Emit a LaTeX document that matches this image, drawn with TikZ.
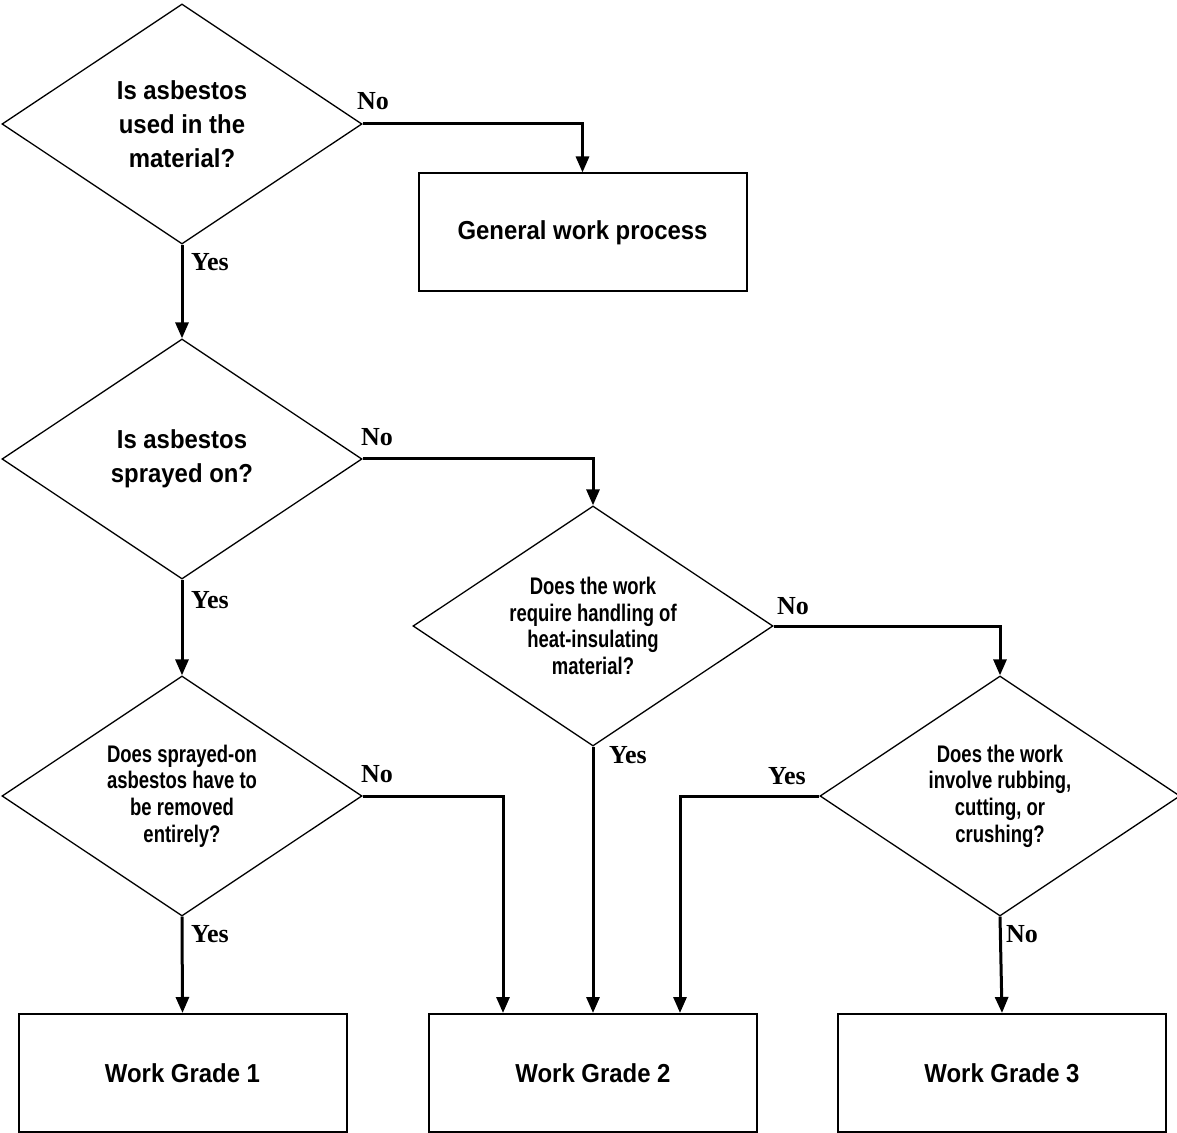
\documentclass[tikz,border=0pt]{standalone}
\usepackage{fontspec}
\setmainfont{Liberation Sans}
\newfontfamily\boxfont[FakeStretch=0.92]{Liberation Sans}
\newfontfamily\narrowfont[FakeStretch=0.77]{Liberation Sans}
\newfontfamily\answerfont{Liberation Serif}
\usetikzlibrary{shapes.geometric, arrows.meta}

\begin{document}
\begin{tikzpicture}[x=0.5pt, y=-0.5pt, >={Triangle[width=6.5pt, length=8pt]},
    question/.style={diamond, draw, line width=0.65pt, aspect=1.5,
        minimum width=180pt, minimum height=120pt, inner sep=0pt,
        align=center, font=\boxfont\bfseries\fontsize{13}{17}\selectfont},
    smallq/.style={question, font=\narrowfont\bfseries\fontsize{12}{13.3}\selectfont},
    result/.style={rectangle, draw, line width=1pt, minimum width=164pt,
        minimum height=59pt, font=\boxfont\bfseries\fontsize{13}{16}\selectfont},
    flow/.style={->, line width=1.5pt},
    answer/.style={font=\answerfont\bfseries\fontsize{13}{15}\selectfont}]
    \useasboundingbox (0, 0) rectangle (1177, 1133);

    % Questions
    \node[question] (used) at (182, 124) {Is asbestos\\used in the\\material?};
    \node[question] (sprayed) at (182, 459) {Is asbestos\\sprayed on?};
    \node[smallq] (heat) at (593, 626) {Does the work\\require handling of\\heat-insulating\\material?};
    \node[smallq] (removed) at (182, 796) {Does sprayed-on\\asbestos have to\\be removed\\entirely?};
    \node[smallq] (rubbing) at (1000, 796) {Does the work\\involve rubbing,\\cutting, or\\crushing?};

    % Results
    \node[result] (general) at (582.5, 232.5) {General work process};
    \node[result] (grade1) at (182.5, 1073) {Work Grade 1};
    \node[result] (grade2) at (593, 1073) {Work Grade 2};
    \node[result] (grade3) at (1002, 1073) {Work Grade 3};

    % Connectors
    \draw[flow] (used.east) -| (general.north);
    \draw[flow] (used.south) -- (sprayed.north);
    \draw[flow] (sprayed.east) -| (heat.north);
    \draw[flow] (sprayed.south) -- (removed.north);
    \draw[flow] (heat.east) -| (rubbing.north);
    \draw[flow] (heat.south) -- (grade2.north);
    \draw[flow] (removed.east) -| ([xshift=-45pt]grade2.north);
    \draw[flow] (removed.south) -- (grade1.north);
    \draw[flow] (rubbing.west) -| ([xshift=43.5pt]grade2.north);
    \draw[flow] (rubbing.south) -- (grade3.north);

    % Yes / No labels
    \node[answer] (usedno) at (373, 101) {No};
    \node[answer] (usedyes) at (210, 262) {Yes};
    \node[answer] (sprayedno) at (377, 437) {No};
    \node[answer] (sprayedyes) at (210, 600) {Yes};
    \node[answer] (heatno) at (793, 606) {No};
    \node[answer] (heatyes) at (628, 755) {Yes};
    \node[answer] (removedno) at (377, 774) {No};
    \node[answer] (removedyes) at (210, 934) {Yes};
    \node[answer] (rubbingyes) at (787, 776) {Yes};
    \node[answer] (rubbingno) at (1022, 934) {No};
\end{tikzpicture}
\end{document}
